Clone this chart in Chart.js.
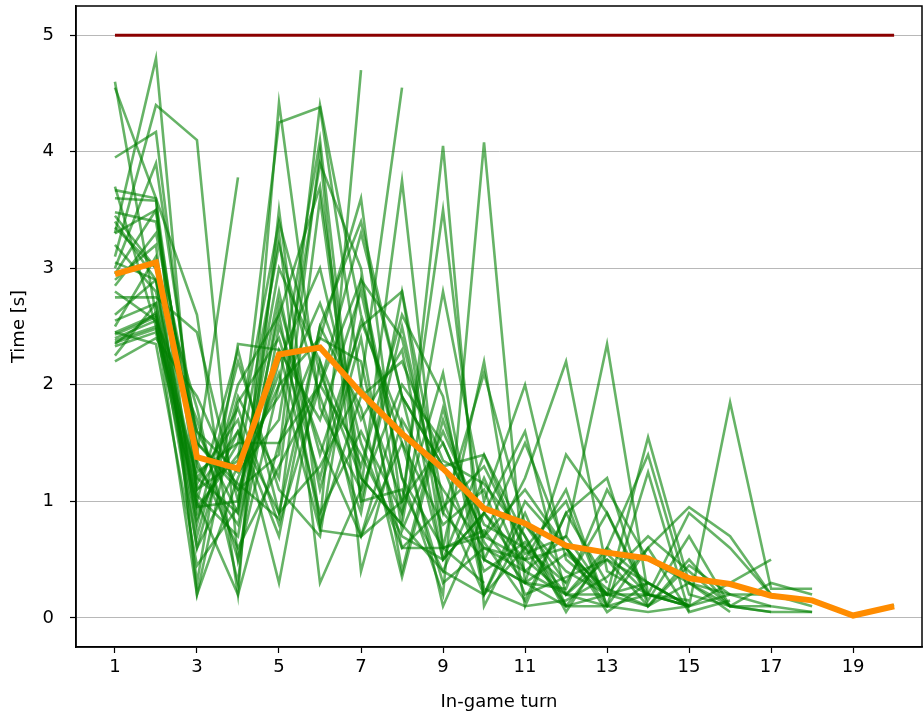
<!doctype html>
<html>
  <head>
    <meta charset="utf-8">
    <title>Time per in-game turn</title>
    <style>
      html, body {
        margin: 0;
        background: #fff;
      }
      #wrap {
        width: 923px;
        height: 717px;
      }
    </style>
  </head>
  <body>
    <div id="wrap">
      <canvas id="canvas"></canvas>
    </div>

    <script src="https://cdn.jsdelivr.net/npm/chart.js@4.4.1/dist/chart.umd.min.js"></script>
    <script>
      // turns 1..20
      var turns = [1, 2, 3, 4, 5, 6, 7, 8, 9, 10, 11, 12, 13, 14, 15, 16, 17, 18, 19, 20]
      var xTicks = [1, 3, 5, 7, 9, 11, 13, 15, 17, 19]
      var yTicks = [0, 1, 2, 3, 4, 5]

      // time limit (red line)
      var timeLimit = [5, 5, 5, 5, 5, 5, 5, 5, 5, 5, 5, 5, 5, 5, 5, 5, 5, 5, 5, 5]

      // mean time per turn (orange line)
      var meanTime = [2.95, 3.05, 1.38, 1.28, 2.26, 2.32, 1.93, 1.58, 1.28, 0.94,
                      0.81, 0.62, 0.56, 0.51, 0.34, 0.29, 0.19, 0.15, 0.02, 0.10]

      // time per turn for each game (green lines)
      var games = [
        [4.6, 2.6, 0.9, 1.5, 3.4, 2.1, 1.2, 0.8, 0.4, 0.2, 0.6, 0.3],
        [4.55, 3.6, 0.2, 1.2, 2.0, 4.1, 1.0, 2.5, 0.9, 0.5, 0.3, 0.1, 0.2, 0.1],
        [3.95, 4.17, 1.3, 0.8, 2.3, 1.7, 2.8, 1.2, 0.6, 0.3],
        [3.67, 3.6, 2.6, 0.2, 4.42, 1.8, 1.1, 2.0, 1.5, 0.7, 1.1, 0.6, 0.2],
        [3.6, 3.58, 1.1, 1.6, 0.9, 2.5, 3.4, 1.9, 0.5, 0.9, 1.6, 0.2, 0.6, 0.3, 0.1],
        [3.48, 3.4, 1.4, 3.78],
        [3.4, 2.9, 0.6, 1.9, 1.2, 4.0, 0.4, 1.7, 1.1, 0.6, 0.4],
        [3.35, 3.0, 1.8, 0.3, 3.5, 0.8, 4.7],
        [3.3, 4.8, 1.0, 2.3, 0.9, 1.3, 2.0, 4.55],
        [3.1, 4.4, 4.1, 0.5, 2.0, 2.4, 3.6, 0.9, 4.05, 0.1, 0.8, 0.4, 0.2],
        [3.0, 3.9, 1.5, 1.1, 1.4, 4.4, 2.6, 1.5, 0.3, 0.6, 0.5, 0.6, 0.1, 0.05, 0.1],
        [2.95, 3.5, 0.7, 2.0, 2.6, 3.7, 1.2, 0.8, 2.8, 1.0, 2.0, 0.5, 0.2, 1.55, 0.3, 0.2, 0.1, 0.05],
        [2.85, 3.3, 1.6, 0.9, 3.3, 0.3, 1.1, 3.75, 0.6, 2.2, 0.1, 0.9, 0.3],
        [2.75, 2.75, 2.45, 1.0, 2.8, 1.1, 2.4, 0.4, 1.8, 0.5, 1.2, 2.2, 0.4, 0.2, 0.9, 0.6, 0.2],
        [2.45, 2.6, 1.2, 1.7, 0.3, 2.2, 0.7, 1.0, 3.5, 0.5, 0.3, 1.4, 0.9, 0.15, 0.7, 0.1],
        [2.43, 2.58, 0.95, 1.4, 1.9, 2.7, 1.7, 2.3, 0.5, 0.9, 0.4, 0.7, 2.35, 0.2, 0.1, 0.3, 0.5],
        [2.4, 2.55, 1.7, 0.5, 2.5, 1.5, 0.7, 1.9, 1.3, 1.4, 0.7, 0.05, 0.6, 1.4, 0.2, 0.1, 0.3, 0.2],
        [2.38, 2.5, 0.8, 2.2, 1.1, 0.7, 2.9, 1.2, 0.2, 4.08, 0.3, 0.25, 1.1, 0.5, 0.3, 0.05],
        [2.36, 2.48, 1.2, 0.9, 2.2, 3.0, 1.5, 0.6, 0.95, 1.3, 0.6, 0.1, 0.1, 0.6, 0.95, 0.7, 0.2, 0.1],
        [2.35, 2.62, 0.6, 1.3, 3.2, 1.9, 0.9, 2.8, 1.0, 0.2, 1.0, 0.6, 0.2, 0.2, 0.1, 1.85, 0.25, 0.25],
        [2.33, 2.45, 1.0, 0.2, 1.5, 2.4, 2.2, 0.6, 0.6, 0.7, 1.5, 0.6, 0.05, 0.3, 0.1, 0.2, 0.2, 0.15, 0.01, 0.11],
        [2.25, 2.7, 0.85, 1.6, 0.7, 2.5, 1.8, 0.35, 1.7, 0.65, 0.15, 0.9, 1.2, 0.1, 0.5, 0.1, 0.05],
        [2.2, 2.4, 1.9, 1.1, 2.1, 0.75, 0.7, 1.5, 0.8, 1.1, 0.2, 0.35, 0.5, 0.3, 0.1],
        [2.5, 3.1, 1.35, 0.6, 1.3, 2.0, 3.3, 1.9, 1.3, 0.4, 0.65, 0.2, 0.1, 1.25, 0.05, 0.15],
        [2.9, 3.2, 0.3, 2.35, 2.3, 0.9, 1.6, 0.9, 2.1, 0.25, 0.1, 0.15, 0.35, 0.7, 0.4, 0.1, 0.05, 0.05],
        [3.2, 2.8, 1.15, 1.8, 0.8, 2.0, 2.9, 2.4, 0.9, 2.1, 0.8, 0.3, 0.9, 0.2, 0.1],
        [2.6, 2.9, 0.95, 1.0, 3.0, 2.2, 1.3, 2.6, 1.9, 0.2, 0.9, 0.1],
        [3.7, 2.5, 1.1, 1.35, 4.25, 4.38, 2.0, 1.0, 1.5, 0.7, 0.5, 0.2, 0.2, 0.6, 0.05],
        [2.45, 2.35, 0.45, 0.95, 2.6, 0.8, 1.9, 2.2, 1.35, 1.15, 0.7, 0.1, 0.55, 0.2, 0.15],
        [3.3, 3.5, 1.25, 1.5, 1.5, 2.0, 1.4, 0.7, 0.5, 1.4, 0.55, 0.7, 0.2, 0.3],
        [2.8, 2.55, 0.2, 1.85, 2.4, 1.2, 2.55, 1.65, 0.1, 0.9, 0.5, 1.1, 0.1],
        [3.45, 3.0, 1.5, 1.15, 0.85, 3.6, 1.0, 1.1, 0.4, 1.2, 0.4, 0.2, 0.5, 0.1, 0.3, 0.1, 0.1],
        [2.55, 2.7, 1.05, 0.7, 2.7, 1.4, 2.5, 2.8, 0.6, 0.75, 0.3, 0.55, 0.25, 0.1, 0.45, 0.2],
        [3.05, 2.9, 1.6, 1.25, 1.7, 3.9, 3.0, 0.75, 1.6, 0.8, 0.6, 1.0, 0.1, 0.2]
      ]

      var FONT = '"DejaVu Sans", sans-serif'

      var toPoints = function(values) {
        return values.map(function(v, i) {
          return { x: turns[i], y: v }
        })
      }

      var datasets = games.map(function(g) {
        return {
          data: toPoints(g),
          borderColor: 'rgba(0, 128, 0, 0.6)',
          borderWidth: 2.6,
          pointRadius: 0,
          order: 3
        }
      })
      datasets.push({
        data: toPoints(timeLimit),
        borderColor: '#8b0000',
        borderWidth: 3,
        pointRadius: 0,
        order: 2
      })
      datasets.push({
        data: toPoints(meanTime),
        borderColor: '#ff8c00',
        borderWidth: 6,
        pointRadius: 0,
        order: 1
      })

      // full box around the plot area, like matplotlib spines
      var framePlugin = {
        id: 'frame',
        afterDraw: function(chart) {
          var a = chart.chartArea
          var ctx = chart.ctx
          ctx.save()
          ctx.strokeStyle = '#000'
          ctx.lineWidth = 1.5
          ctx.strokeRect(a.left, a.top, a.right - a.left, a.bottom - a.top)
          ctx.restore()
        }
      }

      Chart.defaults.font.family = FONT
      Chart.defaults.color = '#000'

      var ctx = document.getElementById('canvas').getContext('2d')
      new Chart(ctx, {
        type: 'line',
        data: { datasets: datasets },
        plugins: [framePlugin],
        options: {
          responsive: true,
          maintainAspectRatio: false,
          animation: false,
          layout: { padding: { top: 6, right: 1, left: 0, bottom: 0 } },
          plugins: {
            legend: { display: false },
            tooltip: { enabled: false }
          },
          elements: { line: { tension: 0 } },
          scales: {
            x: {
              type: 'linear',
              min: 0.05,
              max: 20.68,
              afterBuildTicks: function(scale) {
                scale.ticks = xTicks.map(function(v) { return { value: v } })
              },
              afterFit: function(scale) {
                scale.height = 70
                scale.paddingLeft = 0
                scale.paddingRight = 0
              },
              border: { color: '#000', width: 1.5 },
              grid: { drawOnChartArea: false, drawTicks: true, tickLength: 6, tickColor: '#000', tickWidth: 1.2 },
              ticks: { font: { size: 18 }, padding: 4, maxRotation: 0 },
              title: { display: true, text: 'In-game turn', font: { size: 18 }, padding: { top: 6 } }
            },
            y: {
              min: -0.25,
              max: 5.25,
              afterBuildTicks: function(scale) {
                scale.ticks = yTicks.map(function(v) { return { value: v } })
              },
              afterFit: function(scale) {
                scale.width = 76
                scale.paddingTop = 0
                scale.paddingBottom = 0
              },
              border: { color: '#000', width: 1.5 },
              grid: { color: '#b8b8b8', lineWidth: 1, drawTicks: true, tickLength: 6, tickColor: '#000', tickWidth: 1.2 },
              ticks: { font: { size: 18 }, padding: 16 },
              title: { display: true, text: 'Time [s]', font: { size: 18 }, padding: { top: 9, bottom: 4 } }
            }
          }
        }
      })
    </script>
  </body>
</html>
